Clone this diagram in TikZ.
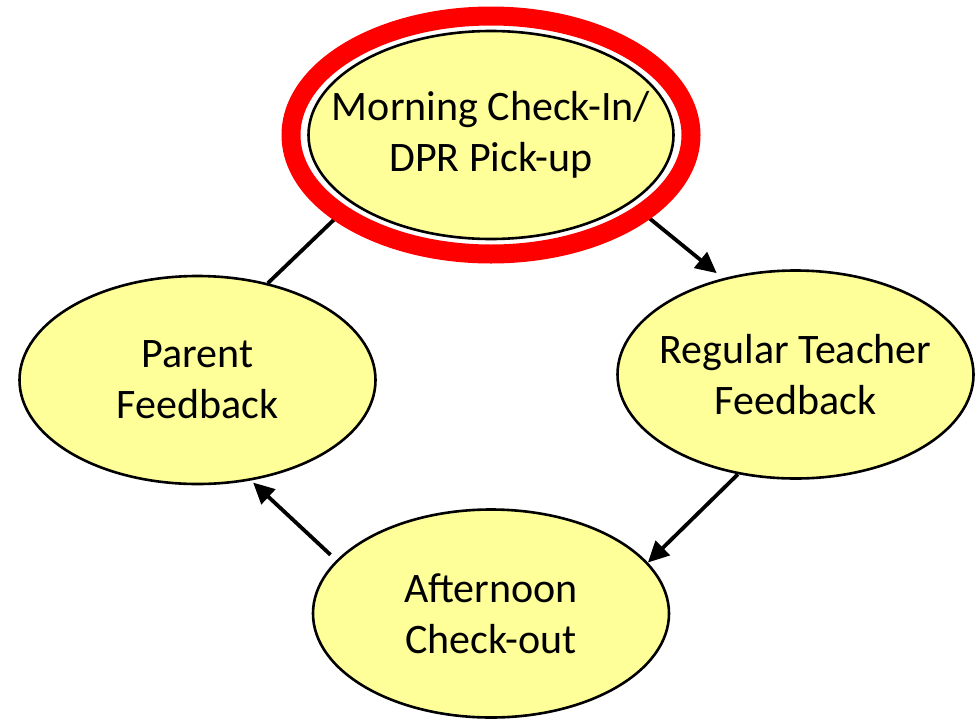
\documentclass[tikz,border=0pt]{standalone}
\usepackage{fontspec}
\setmainfont{Carlito}
\usetikzlibrary{shapes.geometric, positioning, arrows.meta}
\definecolor{phasefill}{HTML}{FFFF99}

\begin{document}
\begin{tikzpicture}[x=1pt, y=-1pt, on grid, auto]
        \tikzset{phase/.style={ellipse, draw=black, line width=2.6pt, fill=phasefill,
            minimum width=356pt, minimum height=208pt, inner sep=-30pt, align=center,
            font=\fontsize{42}{51}\selectfont}}
        \tikzstyle{red ring}=[draw=red, line width=19pt]

        \useasboundingbox (0,0) rectangle (979,718);
        \node[phase] (morning) at (491,135) {Morning Check-In/\\DPR Pick-up};
        \node[phase] (parent) [below left=245pt and 293.5pt of morning] {Parent\\Feedback};
        \node[phase] (teacher) [below right=239.5pt and 304.5pt of morning] {Regular Teacher\\Feedback};
        \node[phase] (afternoon) [below=478.5pt of morning] {Afternoon\\Check-out};
        \path[-{Triangle[length=21pt,width=20pt]}, line width=3.8pt]
        (morning.-26) edge [shorten <=10pt, shorten >=8pt] (teacher.127)
        (teacher.240) edge (afternoon.18)
        (afternoon.161) edge [shorten <=8pt, shorten >=3pt] (parent.-62)
        (parent.54) edge [-, shorten >=10pt] (morning.206);
        \draw[red ring] (morning.center) ellipse [x radius=200pt, y radius=119pt];
    \end{tikzpicture}
\end{document}
